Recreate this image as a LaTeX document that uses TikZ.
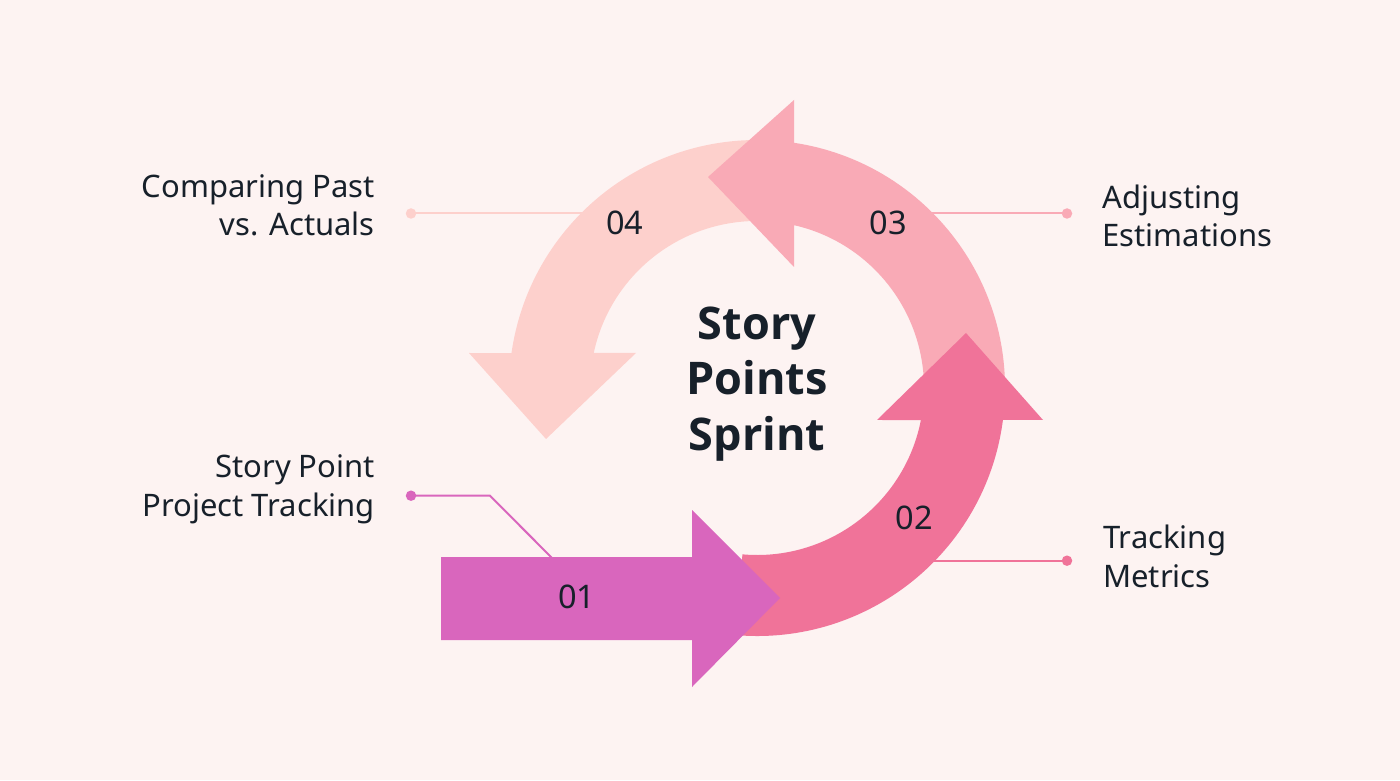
\documentclass[tikz,border=0pt]{standalone}
\usepackage{fontspec}
\setmainfont{Noto Sans}
\newfontfamily\titlefont{Open Sans}
\usetikzlibrary{calc}
\definecolor{bg}{HTML}{FDF3F2}
\definecolor{cone}{HTML}{D966BD}
\definecolor{ctwo}{HTML}{F07399}
\definecolor{cthree}{HTML}{F9AAB6}
\definecolor{cfour}{HTML}{FDD0CC}
\definecolor{ink}{HTML}{17202A}
\begin{document}
\begin{tikzpicture}[x=1pt,y=1pt,
  lbl/.style={font=\fontsize{31}{38.5}\selectfont, text=ink, inner sep=0pt},
  num/.style={font=\fontsize{32.5}{38}\selectfont, text=ink, inner sep=0pt},
  ttl/.style={font=\titlefont\bfseries\fontsize{45}{55.5}\selectfont, text=ink, inner sep=0pt, align=center},
  dotnode/.style={circle, inner sep=0pt, minimum size=10.5pt, fill=#1},
  lead/.style={draw=#1, line width=2pt},
]
\fill[bg] (0,0) rectangle (1400,780);
\useasboundingbox (0,0) rectangle (1400,780);
\coordinate (C) at (757,392);

% leader lines (under the arrows)
\node[dotnode=cfour] (d4) at (411,566.5) {};
\coordinate (e4) at (600,566.5);
\draw[lead=cfour] (d4.center) -- (e4);

\node[dotnode=cthree] (d3) at (1067,566.5) {};
\coordinate (e3) at (915,566.5);
\draw[lead=cthree] (d3.center) -- (e3);

\node[dotnode=ctwo] (d2) at (1067,219.3) {};
\coordinate (e2) at (915,219.3);
\draw[lead=ctwo] (d2.center) -- (e2);

\node[dotnode=cone] (d1) at (411,284.3) {};
\coordinate (b1) at (490,284.3);
\coordinate (e1) at (552,222);
\draw[lead=cone] (d1.center) -- (b1) -- (e1);

% arrow 04
\fill[cfour] ($(C)+(88:248pt)$) arc[start angle=88, end angle=171.9, radius=248pt]
  -- (469,427) -- (546,341) -- (636,427)
  -- ($(C)+(167.9:167pt)$) arc[start angle=167.9, end angle=88, radius=167pt] -- cycle;
% arrow 03
\fill[cthree] ($(C)+(-5:248pt)$) arc[start angle=-5, end angle=81.42, radius=248pt]
  -- (794,680) -- (708,603) -- (794,513)
  -- ($(C)+(77.2:167pt)$) arc[start angle=77.2, end angle=-5, radius=167pt] -- cycle;
% arrow 02
\fill[ctwo] ($(C)+(-95:248pt)$) arc[start angle=-95, end angle=-7.41, radius=248pt]
  -- (1043,360) -- (966,447) -- (877,360)
  -- ($(C)+(-11.05:167pt)$) arc[start angle=-11.05, end angle=-95, radius=167pt] -- cycle;
% arrow 01
\fill[cone] (441,140) -- (692,140) -- (692,93) -- (780,182) -- (692,270) -- (692,223) -- (441,223) -- cycle;

% numbers
\node[num] (n1) at (576.7,183.3) {01};
\node[num] (n2) at (914.3,262.3) {02};
\node[num] (n3) at (888,557) {03};
\node[num] (n4) at (624.7,556.7) {04};

% title (base anchor = baseline of the last line)
\node[ttl, anchor=base] (title) at (757,330) {Story\\Points\\Sprint};

% labels (base anchor = baseline of the last line)
\node[lbl, align=right, anchor=base east] (l4) at (375,544.2) {Comparing Past\\vs. Actuals};
\node[lbl, align=left, anchor=base west] (l3) at (1102.5,533.3) {Adjusting\\Estimations};
\node[lbl, align=right, anchor=base east] (l1) at (375,264) {Story Point\\Project Tracking};
\node[lbl, align=left, anchor=base west] (l2) at (1103,193) {Tracking\\Metrics};
\end{tikzpicture}
\end{document}
